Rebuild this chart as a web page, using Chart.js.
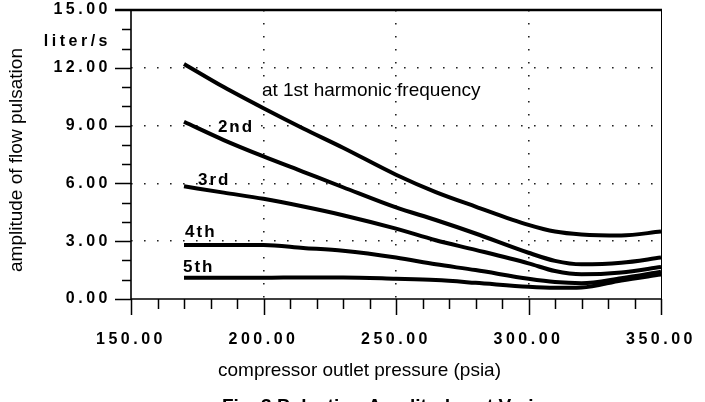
<!DOCTYPE html>
<html lang="en">
<head>
  <meta charset="UTF-8">
  <title>Flow pulsation amplitude vs outlet pressure</title>
  <script src="https://cdn.jsdelivr.net/npm/chart.js"></script>
  <style>
    body {
      margin: 0;
      background: #fff;
    }
    canvas {
      display: block;
    }
  </style>
</head>
<body>
  <canvas id="chart" width="705" height="402"></canvas>

  <script>
    // compressor outlet pressure (psia)
    const pressure = [170, 185, 200, 215, 230, 250, 265, 280, 300, 310, 320, 335, 350];

    // amplitude of flow pulsation (liter/s), one list per harmonic
    const harm1 = [12.2, 11.0, 9.9, 8.85, 7.85, 6.45, 5.55, 4.8, 3.85, 3.5, 3.35, 3.3, 3.5];
    const harm2 = [9.2, 8.25, 7.4, 6.6, 5.8, 4.75, 4.1, 3.4, 2.4, 1.98, 1.8, 1.88, 2.15];
    const harm3 = [5.85, 5.52, 5.2, 4.8, 4.35, 3.65, 3.05, 2.55, 1.85, 1.45, 1.28, 1.38, 1.66];
    const harm4 = [2.8, 2.8, 2.8, 2.65, 2.5, 2.15, 1.8, 1.5, 1.05, 0.88, 0.82, 1.08, 1.42];
    const harm5 = [1.1, 1.1, 1.1, 1.12, 1.12, 1.05, 0.98, 0.84, 0.63, 0.58, 0.6, 0.96, 1.27];

    const xTicks = [150, 200, 250, 300, 350];
    const yTicks = [0, 3, 6, 9, 12, 15];

    // curve captions, placed in data units (left edge, vertical middle)
    const curveNames = ['at 1st harmonic frequency', '2nd', '3rd', '4th', '5th'];
    const nameAtX = [199.4, 182.8, 175.3, 170.4, 169.6];
    const nameAtY = [10.8, 8.9, 6.15, 3.45, 1.63];

    const FONT = "'Liberation Sans', Arial, Helvetica, sans-serif";

    function serie(values) {
      return {
        data: values.map((v, i) => ({ x: pressure[i], y: v })),
        borderColor: '#000',
        borderWidth: 4,
        pointRadius: 0,
        cubicInterpolationMode: 'monotone',
        fill: false
      };
    }

    function sinBorde(min, max) {
      return ctx => (ctx.tick && (ctx.tick.value === min || ctx.tick.value === max)) ? 'rgba(0,0,0,0)' : '#222';
    }

    // ejes, marcas menores y textos
    const marco = {
      id: 'marco',
      beforeDraw(chart) {
        chart.ctx.letterSpacing = '3.5px';
      },
      afterDraw(chart) {
        const { ctx, chartArea: a, scales: { x, y } } = chart;
        ctx.save();
        ctx.letterSpacing = '0px';
        ctx.strokeStyle = '#000';
        ctx.lineCap = 'butt';

        // ticks del eje x (cada 10, largos cada 50)
        ctx.lineWidth = 1.5;
        ctx.beginPath();
        for (let v = 150; v <= 350; v += 10) {
          const px = Math.round(x.getPixelForValue(v)) + 0.5;
          const len = v % 50 === 0 ? 16 : 10;
          ctx.moveTo(px, a.bottom);
          ctx.lineTo(px, a.bottom + len);
        }
        // ticks del eje y (cada 1, largos cada 3)
        for (let v = 0; v < 15; v += 1) {
          const py = Math.round(y.getPixelForValue(v)) + 0.5;
          const len = v % 3 === 0 ? 16 : 9;
          ctx.moveTo(a.left - len, py);
          ctx.lineTo(a.left, py);
        }
        ctx.stroke();

        // ejes izquierdo e inferior
        ctx.lineWidth = 1.6;
        ctx.beginPath();
        ctx.moveTo(a.left, a.top);
        ctx.lineTo(a.left, a.bottom + 1);
        ctx.moveTo(a.left, a.bottom);
        ctx.lineTo(a.right, a.bottom);
        ctx.stroke();

        // borde derecho fino
        ctx.lineWidth = 1;
        ctx.beginPath();
        ctx.moveTo(a.right + 0.5, a.top);
        ctx.lineTo(a.right + 0.5, a.bottom);
        ctx.stroke();

        // borde superior grueso (incluye la marca de 15.00)
        ctx.lineWidth = 2.6;
        ctx.beginPath();
        ctx.moveTo(a.left - 16, a.top);
        ctx.lineTo(a.right + 1, a.top);
        ctx.stroke();

        ctx.fillStyle = '#000';

        // unidad bajo 15.00
        ctx.font = 'bold 16px ' + FONT;
        ctx.letterSpacing = '3.5px';
        ctx.textAlign = 'right';
        ctx.textBaseline = 'middle';
        ctx.fillText('liter/s', a.left - 20, 42);

        // nombres de las curvas
        ctx.textAlign = 'left';
        curveNames.forEach((t, i) => {
          if (i === 0) {
            ctx.font = '19px ' + FONT;
            ctx.letterSpacing = '0px';
          } else {
            ctx.font = 'bold 17px ' + FONT;
            ctx.letterSpacing = '2px';
          }
          ctx.fillText(t, x.getPixelForValue(nameAtX[i]), y.getPixelForValue(nameAtY[i]));
        });

        // títulos de los ejes
        ctx.letterSpacing = '0px';
        ctx.font = '19px ' + FONT;
        ctx.textBaseline = 'alphabetic';
        ctx.fillText('compressor outlet pressure (psia)', 218, 376);

        ctx.font = 'bold 19px ' + FONT;
        ctx.fillText('Fig. 3 Pulsation Amplitudes at Various', 222, 412);

        ctx.font = '19px ' + FONT;
        ctx.translate(17, 160);
        ctx.rotate(-Math.PI / 2);
        ctx.textAlign = 'center';
        ctx.textBaseline = 'middle';
        ctx.fillText('amplitude of flow pulsation', 0, 0);

        ctx.restore();
        ctx.letterSpacing = '0px';
      }
    };

    const chart = new Chart(document.getElementById('chart').getContext('2d'), {
      type: 'line',
      data: {
        datasets: [serie(harm1), serie(harm2), serie(harm3), serie(harm4), serie(harm5)]
      },
      options: {
        responsive: false,
        animation: false,
        layout: { padding: { top: 10, right: 44, left: 0, bottom: 0 } },
        plugins: {
          legend: { display: false },
          tooltip: { enabled: false }
        },
        scales: {
          x: {
            type: 'linear',
            min: 150,
            max: 350,
            afterBuildTicks: s => { s.ticks = xTicks.map(v => ({ value: v })); },
            afterFit: s => {
              s.height = 103;
              s.paddingLeft = 0;
              s.paddingRight = 0;
            },
            ticks: {
              color: '#000',
              font: { family: FONT, size: 16, weight: 'bold' },
              padding: 31,
              maxRotation: 0,
              autoSkip: false,
              callback: v => Number(v).toFixed(2)
            },
            grid: { color: sinBorde(150, 350), lineWidth: 1.6, drawTicks: false },
            border: { display: false, dash: [1.6, 11.4] }
          },
          y: {
            min: 0,
            max: 15,
            afterBuildTicks: s => { s.ticks = yTicks.map(v => ({ value: v })); },
            afterFit: s => {
              s.width = 131;
              s.paddingTop = 0;
              s.paddingBottom = 0;
            },
            ticks: {
              color: '#000',
              font: { family: FONT, size: 16, weight: 'bold' },
              padding: 20,
              autoSkip: false,
              callback: v => Number(v).toFixed(2)
            },
            grid: { color: sinBorde(0, 15), lineWidth: 1.6, drawTicks: false },
            border: { display: false, dash: [1.6, 11.4] }
          }
        }
      },
      plugins: [marco]
    });
  </script>
</body>
</html>
